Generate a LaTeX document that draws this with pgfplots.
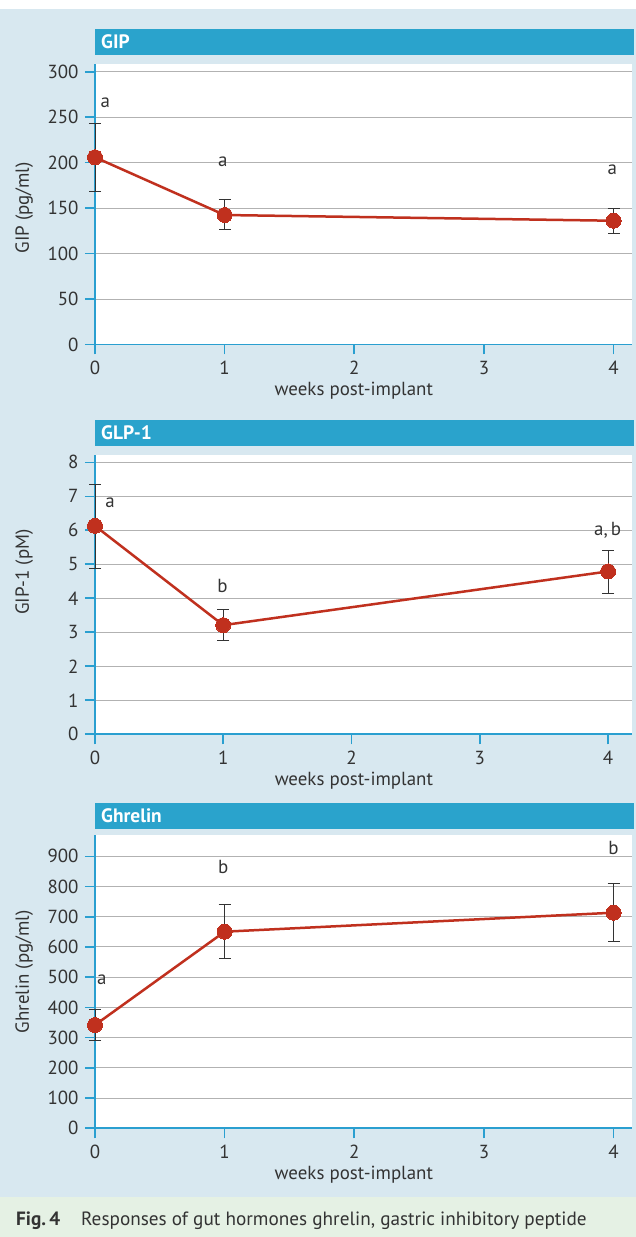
\documentclass[border=0pt]{standalone}
\usepackage{pgfplots}
\pgfplotsset{compat=1.18}
\usepackage{fontspec}
\setmainfont{PT Sans}
\definecolor{bgblue}{HTML}{D8E8F0}
\definecolor{barblue}{HTML}{2AA3CC}
\definecolor{axblue}{HTML}{2A9FD0}
\definecolor{capgreen}{HTML}{E5F1E4}
\definecolor{datared}{HTML}{C0301E}
\definecolor{txt}{HTML}{333333}
\newcommand\F{\fontsize{19}{22}\selectfont}
\tikzset{letter/.style={font=\F, text=txt, inner sep=0pt, anchor=center}}
\pgfplotsset{
  panel/.style={
    scale only axis, width=537bp, xmin=0, ymin=0,
    axis x line*=bottom, axis y line*=left,
    axis line style={draw=axblue, line width=1.8bp},
    tick align=outside, major tick length=10bp,
    tick style={draw=axblue, line width=1.6bp},
    xtick={0,1,2,3,4},
    ymajorgrids, grid style={draw=black!30, line width=1bp},
    axis background/.style={fill=white},
    tick label style={font=\F, text=txt},
    yticklabel style={xshift=-3bp},
    xticklabel style={yshift=-3bp},
    label style={font=\F, text=txt},
    /pgf/number format/assume math mode=true,
    clip=false,
    xlabel={weeks post-implant},
    xlabel style={at={(axis description cs:0.482,0)}, anchor=base, yshift=-51bp},
  },
  errs/.style={draw=none, mark=none, forget plot,
    error bars/.cd, y dir=both, y explicit,
    error bar style={draw=black!80, line width=1bp},
    error mark options={draw=black!80, line width=1bp, mark size=6bp, rotate=90}},
  dataline/.style={draw=datared, line width=2.5bp, mark=*, mark size=7.5bp,
    mark options={fill=datared, draw=datared, line width=0bp}},
}
\pgfplotstableread{
x y ep em
0 205.9 36.9 37.1
1 142.4 17.3 16.2
4 136.1 13.2 13.8
}\gip
\pgfplotstableread{
x y ep em
0 6.13 1.23 1.24
1 3.21 0.47 0.46
4 4.79 0.63 0.65
}\glp
\pgfplotstableread{
x y ep em
0 341.8 52.0 51.9
1 650.6 90.6 87.1
4 713.4 95.0 94.6
}\ghr
\newcommand\titlefont{\fontsize{19.5}{22}\selectfont\bfseries}
\begin{document}
\begin{tikzpicture}
\useasboundingbox (0,0) rectangle (636bp,1237bp);
\fill[white] (0,0) rectangle (636bp,1237bp);
\fill[bgblue] (0,40.3bp) rectangle (636bp,1228bp);
\fill[capgreen] (0,0) rectangle (636bp,40.3bp);
% title bars
\fill[barblue] (95bp,1182bp) rectangle (634bp,1208bp);
\node[anchor=west, inner sep=0pt, text=white, font=\titlefont] at (101bp,1195bp) {GIP};
\fill[barblue] (95bp,791bp) rectangle (634bp,817bp);
\node[anchor=west, inner sep=0pt, text=white, font=\titlefont] at (101bp,804bp) {GLP-1};
\fill[barblue] (95bp,408bp) rectangle (634bp,434bp);
\node[anchor=west, inner sep=0pt, text=white, font=\titlefont] at (101bp,421bp) {Ghrelin};

% Panel 1: GIP
\begin{axis}[panel, at={(95bp,892.5bp)}, anchor=south west,
  height=280.5bp, xmax=4.142, ymax=308.5, ytick={0,50,...,300},
  ylabel={GIP (pg/ml)},
  ylabel style={at={(axis description cs:-0.132,0.487)}, anchor=center}]
\addplot[errs] table[x=x, y=y, y error plus=ep, y error minus=em] {\gip};
\addplot[dataline] table[x=x, y=y] {\gip};
\node[letter] at (axis cs:0.08,266) {a};
\node[letter] at (axis cs:0.985,201) {a};
\node[letter] at (axis cs:3.99,192) {a};
\end{axis}

% Panel 2: GLP-1
\begin{axis}[panel, at={(95bp,502.7bp)}, anchor=south west,
  height=279.3bp, xmax=4.187, ymax=8.215, ytick={0,1,...,8},
  ylabel={GIP-1 (pM)},
  ylabel style={at={(axis description cs:-0.132,0.581)}, anchor=center}]
\addplot[errs] table[x=x, y=y, y error plus=ep, y error minus=em] {\glp};
\addplot[dataline] table[x=x, y=y] {\glp};
\node[letter] at (axis cs:0.117,6.81) {a};
\node[letter] at (axis cs:0.994,4.37) {b};
\node[letter] at (axis cs:3.997,5.99) {a,\,b};
\end{axis}

% Panel 3: Ghrelin
\begin{axis}[panel, at={(95bp,108.7bp)}, anchor=south west,
  height=293.3bp, xmax=4.142, ymax=970.5, ytick={0,100,...,900},
  ylabel={Ghrelin (pg/ml)},
  ylabel style={at={(axis description cs:-0.132,0.533)}, anchor=center}]
\addplot[errs] table[x=x, y=y, y error plus=ep, y error minus=em] {\ghr};
\addplot[dataline] table[x=x, y=y] {\ghr};
\node[letter] at (axis cs:0.053,490) {a};
\node[letter] at (axis cs:0.99,866) {b};
\node[letter] at (axis cs:4.0,928) {b};
\end{axis}

% caption
\node[anchor=base west, inner sep=0pt, text=txt, font=\fontsize{19.3}{22}\selectfont\bfseries] at (16bp,11.5bp) {Fig.\,4};
\node[anchor=base west, inner sep=0pt, text=txt, font=\fontsize{19.3}{22}\selectfont] at (81bp,11.5bp) {Responses of gut hormones ghrelin, gastric inhibitory peptide};
\end{tikzpicture}
\end{document}
